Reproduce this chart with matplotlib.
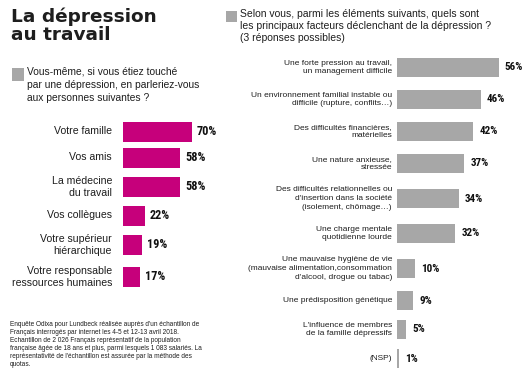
import matplotlib
matplotlib.use("Agg")
import matplotlib.pyplot as plt
from matplotlib.patches import Rectangle

# ---------------- data ----------------
left_categories = ["Votre famille", "Vos amis", "La médecine\ndu travail", "Vos collègues",
                   "Votre supérieur\nhiérarchique", "Votre responsable\nressources humaines"]
left_values = [70, 58, 58, 22, 19, 17]

right_categories = ["Une forte pression au travail,\nun management difficile",
                    "Un environnement familial instable ou\ndifficile (rupture, conflits…)",
                    "Des difficultés financières,\nmatérielles",
                    "Une nature anxieuse,\nstressée",
                    "Des difficultés relationnelles ou\nd'insertion dans la société\n(isolement, chômage…)",
                    "Une charge mentale\nquotidienne lourde",
                    "Une mauvaise hygiène de vie\n(mauvaise alimentation,consommation\nd'alcool, drogue ou tabac)",
                    "Une prédisposition génétique",
                    "L'influence de membres\nde la famille dépressifs",
                    "(NSP)"]
right_values = [56, 46, 42, 37, 34, 32, 10, 9, 5, 1]

title = "La dépression\nau travail"
left_question = "Vous-même, si vous étiez touché\npar une dépression, en parleriez-vous\naux personnes suivantes ?"
right_question = ("Selon vous, parmi les éléments suivants, quels sont\n"
                  "les principaux facteurs déclenchant de la dépression ?\n(3 réponses possibles)")
footnote = ("Enquête Odixa pour Lundbeck réalisée auprès d'un échantillon de\n"
            "Français interrogés par internet les 4-5 et 12-13 avril 2018.\n"
            "Echantillon de 2 026 Français représentatif de la population\n"
            "française âgée de 18 ans et plus, parmi lesquels 1 083 salariés. La\n"
            "représentativité de l'échantillon est assurée par la méthode des\n"
            "quotas.")

# ---------------- layout ----------------
W, H = 531, 372
fig = plt.figure(figsize=(W / 100, H / 100), dpi=100)
fig.patch.set_facecolor("white")

MAGENTA = "#C6007B"
GRAY = "#A7A7A7"
TXT = "#1e1e1e"
COND = ["Roboto Condensed", "Roboto", "DejaVu Sans"]
SANS = ["Liberation Sans", "DejaVu Sans"]


def row_positions(labels, first):
    pos = [first]
    for a, b in zip(labels[:-1], labels[1:]):
        la, lb = a.count("\n") + 1, b.count("\n") + 1
        pos.append(pos[-1] + 20 + 3 * (la + lb))
    return pos


def make_axes(x0_px, px_per_pct):
    ax = fig.add_axes([x0_px / W, 0, 100 * px_per_pct / W, 1])
    ax.set_xlim(0, 100)
    ax.set_ylim(H, 0)
    ax.axis("off")
    return ax


# Left chart
axl = make_axes(123, 0.985)
ly = row_positions(left_categories, 131.5)
axl.barh(ly, left_values, height=20, color=MAGENTA)
for y, v, c in zip(ly, left_values, left_categories):
    axl.annotate(c, xy=(0, y), xytext=(-11, 0), textcoords="offset pixels",
                 ha="right", va="center", fontsize=7.6, family=SANS, color=TXT,
                 linespacing=1.25)
    axl.annotate(f"{v}%", xy=(v, y), xytext=(5, 0), textcoords="offset pixels",
                 ha="left", va="center", fontsize=8.8, family=COND,
                 fontweight="heavy", color="#111111")

# Right chart
axr = make_axes(397, 1.82)
ry = row_positions(right_categories, 67.5)
axr.barh(ry, right_values, height=19.5, color=GRAY)
for y, v, c in zip(ry, right_values, right_categories):
    axr.annotate(c, xy=(0, y), xytext=(-5, 0), textcoords="offset pixels",
                 ha="right", va="center", fontsize=6.0, family=SANS, color=TXT,
                 linespacing=1.35)
    axr.annotate(f"{v}%", xy=(v, y), xytext=(6, 0), textcoords="offset pixels",
                 ha="left", va="center", fontsize=8.0, family=COND,
                 fontweight="heavy", color="#111111")

# Texts in pixel coordinates
def px(x, y):
    return x / W, 1 - y / H

fig.text(*px(11, 8), title, ha="left", va="top", fontsize=13.3, family=["DejaVu Sans"],
         fontweight="bold", color=TXT, linespacing=1.0)

fig.patches.append(Rectangle(px(12, 81), 12 / W, 13 / H, transform=fig.transFigure,
                             facecolor=GRAY, edgecolor="none"))
fig.text(*px(27, 67), left_question, ha="left", va="top", fontsize=7.4, family=SANS,
         color=TXT, linespacing=1.35)

fig.patches.append(Rectangle(px(226, 22), 11 / W, 11 / H, transform=fig.transFigure,
                             facecolor=GRAY, edgecolor="none"))
fig.text(*px(240, 9), right_question, ha="left", va="top", fontsize=7.5, family=SANS,
         color=TXT, linespacing=1.25)

fig.text(*px(10, 321), footnote, ha="left", va="top", fontsize=4.7, family=SANS,
         color=TXT, linespacing=1.2)

fig.savefig("out.png", dpi=100, facecolor="white")
